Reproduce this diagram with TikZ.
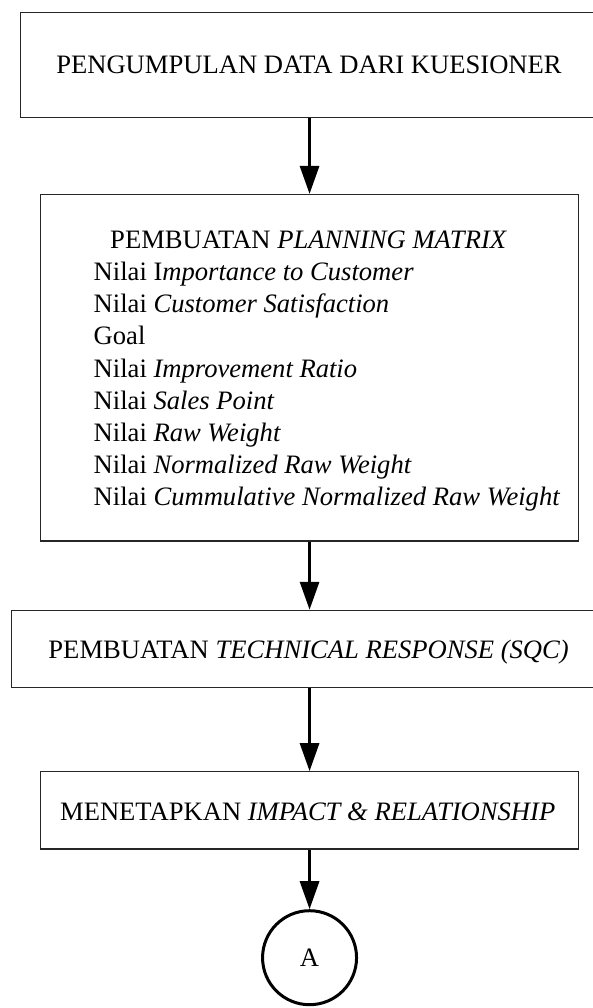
\documentclass[tikz,border=0pt]{standalone}
\usepackage{fontspec}
\setmainfont{Liberation Serif}
\usetikzlibrary{arrows.meta}
\begin{document}
\begin{tikzpicture}[x=1pt,y=-1pt,
  box/.style={draw=black!85,line width=1.1pt,rectangle,inner sep=0pt},
  txt/.style={inner sep=0pt,font=\fontsize{26.6}{32.2}\selectfont},
  arr/.style={line width=3pt,-{Triangle[length=28pt,width=19pt]}},
  conn/.style={circle,draw=black,line width=3pt,minimum size=94pt,inner sep=0pt,font=\fontsize{26.6}{32.2}\selectfont}]
\useasboundingbox (0,0) rectangle (592,1008);
% boxes
\node[box,minimum width=599.3pt,minimum height=105.2pt] (b1) at (320.35,64.9) {};
\node[box,minimum width=538.3pt,minimum height=346.5pt] (b2) at (309.55,367.75) {};
\node[box,minimum width=608.7pt,minimum height=77pt] (b3) at (315.65,648.8) {};
\node[box,minimum width=538.3pt,minimum height=77.3pt] (b4) at (309.55,810.35) {};
\node[conn] (A) at (309.55,957.7) {A};
% texts
\node[txt,anchor=base] (t1) at (309,73.3) {PENGUMPULAN DATA DARI KUESIONER};
\node[txt,anchor=base] (t2) at (308.6,248.5) {PEMBUATAN \textit{PLANNING MATRIX}};
\node[txt,anchor=base west] (l1) at (93.5,280.5) {Nilai I\textit{mportance to Customer}};
\node[txt,anchor=base west] (l2) at (93.5,312.7) {Nilai \textit{Customer Satisfaction}};
\node[txt,anchor=base west] (l3) at (93.5,344.9) {Goal};
\node[txt,anchor=base west] (l4) at (93.5,377.1) {Nilai \textit{Improvement Ratio}};
\node[txt,anchor=base west] (l5) at (93.5,409.3) {Nilai \textit{Sales Point}};
\node[txt,anchor=base west] (l6) at (93.5,441.5) {Nilai \textit{Raw Weight}};
\node[txt,anchor=base west] (l7) at (93.5,473.7) {Nilai \textit{Normalized Raw Weight}};
\node[txt,anchor=base west] (l8) at (93.5,505.9) {Nilai \textit{Cummulative Normalized Raw Weight}};
\node[txt,anchor=base] (t3) at (308.6,658) {PEMBUATAN \textit{TECHNICAL RESPONSE (SQC)}};
\node[txt,anchor=base] (t4) at (307.7,820.5) {MENETAPKAN \textit{IMPACT \& RELATIONSHIP}};
% connectors
\draw[arr] (b1.south -| b2.north) -- (b2.north);
\draw[arr] (b2.south) -- (b3.north -| b2.south);
\draw[arr] (b3.south -| b4.north) -- (b4.north);
\draw[arr] (b4.south) -- (A.north);
\end{tikzpicture}
\end{document}
